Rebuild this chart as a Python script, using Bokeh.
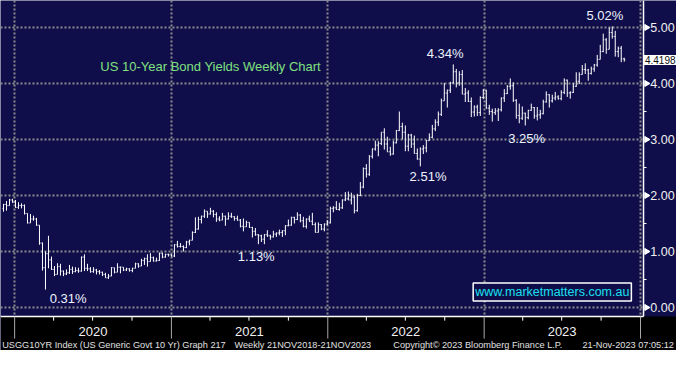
from datetime import datetime
import math
import pandas as pd
from bokeh.plotting import figure
from bokeh.models import (ColumnDataSource, Range1d, FixedTicker, Label, BoxAnnotation)
from bokeh.embed import file_html
from bokeh.resources import INLINE
from bokeh.core.properties import value

# ---------------- data: weekly OHLC of US 10Y yield (week ending Friday) ----------------
first_week = "2019-12-06"

week_open = [
    1.77, 1.84, 1.82, 1.92,
    1.88, 1.79, 1.82, 1.82, 1.68, 1.51, 1.58, 1.58, 1.47, 1.15, 0.71, 0.96, 0.85,
    0.68, 0.59, 0.73, 0.65, 0.60, 0.62, 0.68, 0.64, 0.66, 0.65, 0.90, 0.70, 0.69,
    0.64, 0.67, 0.64, 0.63, 0.59, 0.53, 0.56, 0.71, 0.63, 0.72, 0.72, 0.67, 0.69,
    0.66, 0.70, 0.78, 0.74, 0.84, 0.87, 0.82, 0.89, 0.83, 0.84, 0.97, 0.90, 0.95,
    0.94, 0.92, 1.12, 1.09, 1.09, 1.07, 1.17, 1.20, 1.34, 1.40, 1.57, 1.63, 1.72,
    1.67, 1.72, 1.66, 1.58, 1.56, 1.63, 1.58, 1.63, 1.62, 1.59, 1.56, 1.45, 1.44,
    1.52, 1.43, 1.36, 1.30, 1.28, 1.22, 1.30, 1.28, 1.26, 1.31, 1.33, 1.34, 1.37,
    1.46, 1.47, 1.61, 1.57, 1.65, 1.55, 1.45, 1.58, 1.54, 1.48, 1.34, 1.48, 1.40, 1.49,
    1.51, 1.77, 1.78, 1.75, 1.78, 1.92, 1.94, 1.92, 1.97, 1.73, 2.00, 2.15,
    2.48, 2.38, 2.70, 2.83, 2.90, 2.93, 3.13, 2.92, 2.78, 2.74, 2.94, 3.16, 3.23,
    3.13, 2.88, 3.08, 2.92, 2.75, 2.65, 2.83, 2.85, 2.98, 3.04, 3.19, 3.31, 3.45, 3.69,
    3.83, 3.88, 4.01, 4.21, 4.01, 4.16, 3.81, 3.83, 3.68, 3.49, 3.58, 3.48, 3.75,
    3.87, 3.56, 3.50, 3.48, 3.51, 3.53, 3.74, 3.82, 3.95, 3.96, 3.70, 3.43, 3.38,
    3.47, 3.39, 3.52, 3.57, 3.42, 3.44, 3.46, 3.67, 3.80, 3.69, 3.74, 3.76, 3.73,
    3.84, 4.06, 3.83, 3.84, 3.95, 4.04, 4.16, 4.25, 4.24, 4.18, 4.26, 4.33, 4.43,
    4.57, 4.78, 4.61, 4.91, 4.84, 4.57, 4.63, 4.44,
]
week_high = [
    1.85, 1.90, 1.94, 1.94,
    1.92, 1.88, 1.86, 1.84, 1.68, 1.67, 1.64, 1.60, 1.47, 1.16, 1.00, 1.28, 0.91,
    0.74, 0.79, 0.78, 0.66, 0.68, 0.76, 0.73, 0.72, 0.71, 0.91, 0.95, 0.78, 0.72,
    0.72, 0.69, 0.67, 0.64, 0.62, 0.60, 0.72, 0.71, 0.79, 0.73, 0.72, 0.71, 0.70,
    0.71, 0.80, 0.79, 0.87, 0.89, 0.95, 0.97, 0.91, 0.89, 0.98, 0.98, 0.96, 0.96,
    0.95, 1.13, 1.19, 1.15, 1.11, 1.19, 1.21, 1.36, 1.61, 1.62, 1.64, 1.75, 1.72,
    1.78, 1.74, 1.70, 1.63, 1.69, 1.64, 1.70, 1.69, 1.63, 1.64, 1.58, 1.59, 1.55,
    1.52, 1.44, 1.42, 1.31, 1.30, 1.31, 1.38, 1.30, 1.37, 1.34, 1.39, 1.38, 1.47,
    1.57, 1.62, 1.62, 1.70, 1.67, 1.62, 1.59, 1.64, 1.69, 1.52, 1.52, 1.49, 1.50, 1.56,
    1.80, 1.81, 1.90, 1.87, 1.93, 2.06, 2.07, 2.05, 2.00, 2.03, 2.24, 2.50,
    2.56, 2.72, 2.84, 2.98, 2.97, 3.13, 3.20, 3.05, 2.87, 2.98, 3.17, 3.50, 3.30,
    3.25, 3.10, 3.10, 3.07, 2.84, 2.86, 2.90, 2.99, 3.11, 3.26, 3.36, 3.50, 3.73, 4.01,
    3.89, 4.03, 4.34, 4.26, 4.22, 4.24, 3.92, 3.88, 3.75, 3.61, 3.62, 3.77, 3.90,
    3.89, 3.62, 3.55, 3.56, 3.56, 3.75, 3.90, 3.97, 4.09, 4.02, 3.72, 3.64, 3.59,
    3.48, 3.53, 3.64, 3.58, 3.58, 3.53, 3.71, 3.86, 3.81, 3.80, 3.85, 3.79, 3.88,
    4.09, 4.07, 3.86, 4.01, 4.20, 4.20, 4.33, 4.36, 4.26, 4.30, 4.35, 4.51, 4.69,
    4.89, 4.81, 5.00, 5.02, 4.94, 4.66, 4.67, 4.46,
]
week_low = [
    1.71, 1.73, 1.82, 1.87,
    1.78, 1.76, 1.77, 1.66, 1.50, 1.51, 1.55, 1.46, 1.12, 0.66, 0.32, 0.70, 0.67,
    0.56, 0.59, 0.57, 0.56, 0.58, 0.60, 0.60, 0.63, 0.62, 0.64, 0.65, 0.65, 0.62,
    0.62, 0.59, 0.59, 0.56, 0.53, 0.51, 0.56, 0.61, 0.63, 0.61, 0.65, 0.65, 0.64,
    0.63, 0.70, 0.71, 0.74, 0.76, 0.73, 0.82, 0.82, 0.82, 0.83, 0.88, 0.89, 0.91,
    0.91, 0.90, 1.07, 1.07, 1.00, 1.06, 1.11, 1.20, 1.33, 1.39, 1.50, 1.60, 1.60,
    1.66, 1.61, 1.53, 1.54, 1.56, 1.46, 1.57, 1.60, 1.55, 1.55, 1.43, 1.36, 1.44,
    1.42, 1.25, 1.28, 1.13, 1.17, 1.13, 1.26, 1.21, 1.25, 1.26, 1.29, 1.26, 1.29,
    1.45, 1.46, 1.50, 1.56, 1.52, 1.43, 1.41, 1.53, 1.47, 1.34, 1.34, 1.38, 1.36, 1.47,
    1.50, 1.70, 1.74, 1.73, 1.76, 1.90, 1.92, 1.84, 1.68, 1.71, 1.99, 2.13,
    2.32, 2.35, 2.66, 2.80, 2.70, 2.90, 2.82, 2.78, 2.71, 2.73, 2.93, 3.15, 3.00,
    2.79, 2.79, 2.85, 2.75, 2.64, 2.52, 2.74, 2.77, 2.98, 3.02, 3.15, 3.24, 3.42, 3.69,
    3.57, 3.83, 4.00, 3.93, 3.96, 3.81, 3.67, 3.67, 3.40, 3.41, 3.42, 3.42, 3.72,
    3.55, 3.44, 3.32, 3.44, 3.33, 3.50, 3.67, 3.81, 3.89, 3.67, 3.37, 3.29, 3.35,
    3.25, 3.36, 3.51, 3.37, 3.34, 3.37, 3.45, 3.66, 3.57, 3.66, 3.70, 3.71, 3.70,
    3.81, 3.76, 3.73, 3.83, 3.94, 3.99, 4.16, 4.17, 4.05, 4.16, 4.21, 4.30, 4.43,
    4.56, 4.53, 4.61, 4.80, 4.48, 4.47, 4.38, 4.39,
]
week_close = [
    1.84, 1.82, 1.92, 1.88,
    1.79, 1.82, 1.82, 1.68, 1.51, 1.58, 1.58, 1.47, 1.15, 0.71, 0.96, 0.85, 0.68,
    0.59, 0.73, 0.65, 0.60, 0.62, 0.68, 0.64, 0.66, 0.65, 0.90, 0.70, 0.69, 0.64,
    0.67, 0.64, 0.63, 0.59, 0.53, 0.56, 0.71, 0.63, 0.72, 0.72, 0.67, 0.69, 0.66,
    0.70, 0.78, 0.74, 0.84, 0.87, 0.82, 0.89, 0.83, 0.84, 0.97, 0.90, 0.95, 0.94,
    0.92, 1.12, 1.09, 1.09, 1.07, 1.17, 1.20, 1.34, 1.40, 1.57, 1.63, 1.72, 1.67,
    1.72, 1.66, 1.58, 1.56, 1.63, 1.58, 1.63, 1.62, 1.59, 1.56, 1.45, 1.44, 1.52,
    1.43, 1.36, 1.30, 1.28, 1.22, 1.30, 1.28, 1.26, 1.31, 1.33, 1.34, 1.37, 1.46,
    1.47, 1.61, 1.57, 1.65, 1.55, 1.45, 1.58, 1.54, 1.48, 1.34, 1.48, 1.40, 1.49, 1.51,
    1.77, 1.78, 1.75, 1.78, 1.92, 1.94, 1.92, 1.97, 1.73, 2.00, 2.15, 2.48,
    2.38, 2.70, 2.83, 2.90, 2.93, 3.13, 2.92, 2.78, 2.74, 2.94, 3.16, 3.23, 3.13,
    2.88, 3.08, 2.92, 2.75, 2.65, 2.83, 2.85, 2.98, 3.04, 3.19, 3.31, 3.45, 3.69, 3.83,
    3.88, 4.01, 4.21, 4.01, 4.16, 3.81, 3.83, 3.68, 3.49, 3.58, 3.48, 3.75, 3.87,
    3.56, 3.50, 3.48, 3.51, 3.53, 3.74, 3.82, 3.95, 3.96, 3.70, 3.43, 3.38, 3.47,
    3.39, 3.52, 3.57, 3.42, 3.44, 3.46, 3.67, 3.80, 3.69, 3.74, 3.76, 3.73, 3.84,
    4.06, 3.83, 3.84, 3.95, 4.04, 4.16, 4.25, 4.24, 4.18, 4.26, 4.33, 4.43, 4.57,
    4.78, 4.61, 4.91, 4.84, 4.57, 4.63, 4.44, 4.42,
]

last_price = "4.4198"
last_value = 4.4198

y_ticks = [0, 1, 2, 3, 4, 5]
y_labels = ["0.00", "1.00", "2.00", "3.00", "4.00", "5.00"]
y_minor = [0.5, 1.5, 2.5, 3.5, 4.5]
years = [2020, 2021, 2022, 2023]

ann_text = ["0.31%", "1.13%", "2.51%", "4.34%", "3.25%", "5.02%"]
ann_date = ["2020-05-05", "2021-07-18", "2022-08-23", "2022-10-02", "2023-04-10", "2023-10-10"]
ann_value = [0.16, 0.91, 2.34, 4.54, 3.02, 5.21]

title_text = "US 10-Year Bond Yields Weekly Chart"
site_text = "www.marketmatters.com.au"
footer_text = ["USGG10YR Index (US Generic Govt 10 Yr) Graph 217",
               "Weekly 21NOV2018-21NOV2023",
               "Copyright\u00a9 2023 Bloomberg Finance L.P.",
               "21-Nov-2023 07:05:12"]
footer_date = ["2019-12-03", "2021-05-28", "2022-06-03", "2024-03-19"]
footer_align = ["left", "left", "left", "right"]

# ---------------- build ----------------
dates = pd.date_range(first_week, periods=len(week_close), freq="W-FRI")
half = pd.Timedelta(days=2.4)
src = ColumnDataSource(dict(
    d=dates, dl=dates - half, dr=dates + half,
    o=week_open, h=week_high, l=week_low, c=week_close,
))

NAVY = "#0f0e4a"
GRID = "#8c8c8c"
FONT = "Liberation Sans"
Y_TOP = 5.482
AXIS_V = -0.161      # value at which the date axis line sits
YR_LAB_V = -0.43
TICK_END_V = -0.555
MINOR_END_V = -0.235
FOOT_V = -0.67

x_start = pd.Timestamp("2019-11-29")
x_axis = pd.Timestamp("2024-01-08")     # right edge of the chart area (value axis line)
x_end = pd.Timestamp("2024-03-25")      # right edge of the figure


def ms(dt):
    return pd.Timestamp(dt).value // 10**6


p = figure(width=676, height=350, x_axis_type="datetime",
           x_axis_location=None, y_axis_location=None,
           x_range=Range1d(x_start, x_end), y_range=Range1d(-0.768, Y_TOP),
           output_backend="svg", toolbar_location=None,
           min_border_left=0, min_border_top=0, min_border_right=0, min_border_bottom=0,
           background_fill_color=NAVY, border_fill_color=NAVY, outline_line_color=None)

# vertical (year) grid
year_starts = [ms(datetime(y, 1, 1)) for y in years + [2024]]
p.xgrid.ticker = FixedTicker(ticks=year_starts)
p.xgrid.grid_line_color = GRID
p.xgrid.grid_line_dash = "2 2"
p.xgrid.grid_line_width = 2
p.ygrid.visible = False

# horizontal grid, limited to the chart area
n = len(y_ticks)
p.segment(x0=[x_start] * n, x1=[x_axis] * n, y0=y_ticks, y1=y_ticks,
          line_color=GRID, line_dash="2 2", line_width=2)

# black footer band
p.add_layout(BoxAnnotation(top=AXIS_V, fill_color="black", fill_alpha=1,
                           line_color=None, level="underlay"))

# date axis line, ticks and labels
p.segment(x0=[x_start], x1=[x_axis], y0=[AXIS_V], y1=[AXIS_V], line_color="white", line_width=1.5)
yr_dates = pd.to_datetime([datetime(y, 1, 1) for y in years + [2024]])
q_dates = pd.to_datetime([datetime(y, m, 1) for y in [2019] + years for m in (4, 7, 10)])
p.segment(x0=yr_dates, y0=[AXIS_V] * len(yr_dates), x1=yr_dates, y1=[TICK_END_V] * len(yr_dates),
          line_color="#a8a8a8", line_width=1)
p.segment(x0=q_dates, y0=[AXIS_V] * len(q_dates), x1=q_dates, y1=[MINOR_END_V] * len(q_dates),
          line_color="white", line_width=1)
p.text(x=pd.to_datetime([datetime(y, 7, 2) for y in years]), y=[YR_LAB_V] * len(years),
       text=[str(y) for y in years], text_color="#f0f0f0", text_font=value(FONT),
       text_font_size="13px", text_align="center", text_baseline="middle")

# value axis (right): line, arrow ticks, minor ticks, labels
p.segment(x0=[x_axis], x1=[x_axis], y0=[AXIS_V], y1=[Y_TOP], line_color="white", line_width=1.5)
p.scatter(x=[x_axis + pd.Timedelta(days=7)] * n, y=y_ticks, marker="triangle",
          angle=-math.pi / 2, size=6, fill_color="white", line_color="white")
m = len(y_minor)
p.segment(x0=[x_axis] * m, x1=[x_axis + pd.Timedelta(days=7)] * m, y0=y_minor, y1=y_minor,
          line_color="white", line_width=1)
p.text(x=[x_axis + pd.Timedelta(days=16)] * n, y=y_ticks, text=y_labels,
       text_color="#f0f0f0", text_font=value(FONT), text_font_size="12.5px",
       text_align="left", text_baseline="middle")

# footer
p.text(x=pd.to_datetime(footer_date), y=[FOOT_V] * len(footer_text), text=footer_text,
       text_align=footer_align, text_color="#e0e0e0", text_font=value(FONT),
       text_font_size="9.2px", text_baseline="middle")

# OHLC bars
p.segment(x0="d", y0="l", x1="d", y1="h", source=src, line_color="white", line_width=1)
p.segment(x0="dl", y0="o", x1="d", y1="o", source=src, line_color="white", line_width=1)
p.segment(x0="d", y0="c", x1="dr", y1="c", source=src, line_color="white", line_width=1)

# annotations inside chart
ann_src = ColumnDataSource(dict(t=ann_text, x=pd.to_datetime(ann_date), y=ann_value))
p.text(x="x", y="y", text="t", source=ann_src, text_color="#eef3ff",
       text_font=value(FONT), text_font_size="13px", text_align="center",
       text_baseline="middle")

p.add_layout(Label(x=datetime(2020, 7, 19), y=4.30, text=title_text, text_color="#7fe07f",
                   text_font=FONT, text_font_size="13px", text_baseline="middle"))

p.add_layout(Label(x=datetime(2023, 6, 9), y=0.277, text=site_text, text_color="#18e0f0",
                   text_font=FONT, text_font_size="12.5px", text_align="center",
                   text_baseline="middle", border_line_color="white", border_line_width=1.5,
                   background_fill_color=NAVY, padding=2))

# last price tag
p.add_layout(Label(x=x_axis + pd.Timedelta(days=1), y=last_value, text=last_price,
                   text_color="#101010", text_font=FONT, text_font_size="10px",
                   text_baseline="middle", background_fill_color="white", padding=1))

open("out.html", "w").write(file_html(p, INLINE))
